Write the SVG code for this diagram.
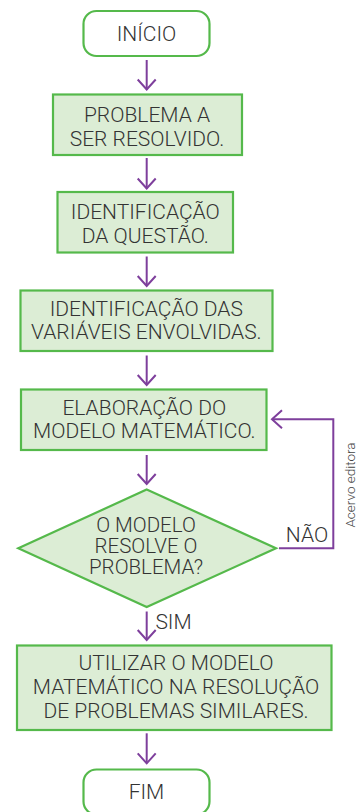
<svg xmlns="http://www.w3.org/2000/svg" width="363" height="812" viewBox="0 0 363 812">
<style>
.t{font-family:Roboto,"Liberation Sans",sans-serif;font-size:21px;font-weight:300;fill:#333;text-anchor:middle}
.d{font-size:20.5px}
.box{fill:#dcedd5;stroke:#55b94b;stroke-width:2.2}
.term{fill:#fff;stroke:#55b94b;stroke-width:2.2}
.c{fill:none;stroke:#7e3f9c;stroke-width:2}
.credit{font-family:Roboto,"Liberation Sans",sans-serif;font-size:13.5px;font-weight:300;fill:#444;text-anchor:middle}
</style>
<defs>
<marker id="ah" markerUnits="userSpaceOnUse" markerWidth="24" markerHeight="24" viewBox="-12 -12 24 24" refX="0" refY="0" orient="auto">
<path d="M-10,-9 L0,0 L-10,9" fill="none" stroke="#7e3f9c" stroke-width="2"/>
</marker>
</defs>
<g id="connectors">
<line class="c" x1="146.7" y1="60" x2="146.7" y2="89.5" marker-end="url(#ah)"/>
<line class="c" x1="146.7" y1="158" x2="146.7" y2="188.5" marker-end="url(#ah)"/>
<line class="c" x1="146.7" y1="256.5" x2="146.7" y2="286" marker-end="url(#ah)"/>
<line class="c" x1="146.7" y1="355.5" x2="146.7" y2="385" marker-end="url(#ah)"/>
<line class="c" x1="146.7" y1="455" x2="146.7" y2="484" marker-end="url(#ah)"/>
<line class="c" x1="146.7" y1="611.5" x2="146.7" y2="640" marker-end="url(#ah)"/>
<line class="c" x1="146.7" y1="733.3" x2="146.7" y2="763.3" marker-end="url(#ah)"/>
<path class="c" d="M279,548.3 H333.3 V419.3 H272" marker-end="url(#ah)"/>
<text class="t" x="307" y="541.7">NÃO</text>
<text class="t" x="173.5" y="629.3">SIM</text>
</g>
<g id="inicio">
<rect class="term" x="83.5" y="11" width="126" height="45" rx="13"/>
<text class="t" x="146.5" y="41">INÍCIO</text>
</g>
<g id="problema">
<rect class="box" x="53" y="94.5" width="189" height="60.5"/>
<text class="t" x="147" y="122.3">PROBLEMA A</text>
<text class="t" x="147" y="145.7">SER RESOLVIDO.</text>
</g>
<g id="questao">
<rect class="box" x="57.5" y="192" width="175.5" height="60.5"/>
<text class="t" x="145.3" y="219">IDENTIFICAÇÃO</text>
<text class="t" x="145.3" y="243.3">DA QUESTÃO.</text>
</g>
<g id="variaveis">
<rect class="box" x="20.5" y="290.5" width="252" height="60.5"/>
<text class="t" x="146.3" y="315.7">IDENTIFICAÇÃO DAS</text>
<text class="t" x="146.3" y="339">VARIÁVEIS ENVOLVIDAS.</text>
</g>
<g id="elaboracao">
<rect class="box" x="21" y="389.5" width="245.5" height="60.5"/>
<text class="t" x="144.3" y="414.5">ELABORAÇÃO DO</text>
<text class="t" x="144.3" y="437.7">MODELO MATEMÁTICO.</text>
</g>
<g id="decisao">
<polygon class="box" points="146.7,489.5 276,548.3 146.7,607 18.3,548.3"/>
<text class="t d" x="146" y="531.7">O MODELO</text>
<text class="t d" x="146" y="553.3">RESOLVE O</text>
<text class="t d" x="146" y="574">PROBLEMA?</text>
</g>
<g id="utilizar">
<rect class="box" x="17" y="645.5" width="314.5" height="84.5"/>
<text class="t" x="176" y="670">UTILIZAR O MODELO</text>
<text class="t" x="176" y="694">MATEMÁTICO NA RESOLUÇÃO</text>
<text class="t" x="176" y="718.3">DE PROBLEMAS SIMILARES.</text>
</g>
<g id="fim">
<rect class="term" x="83.5" y="769.5" width="126" height="45" rx="13"/>
<text class="t" x="146.5" y="799.3">FIM</text>
</g>
<text class="credit" transform="translate(355,485) rotate(-90)">Acervo editora</text>
</svg>
